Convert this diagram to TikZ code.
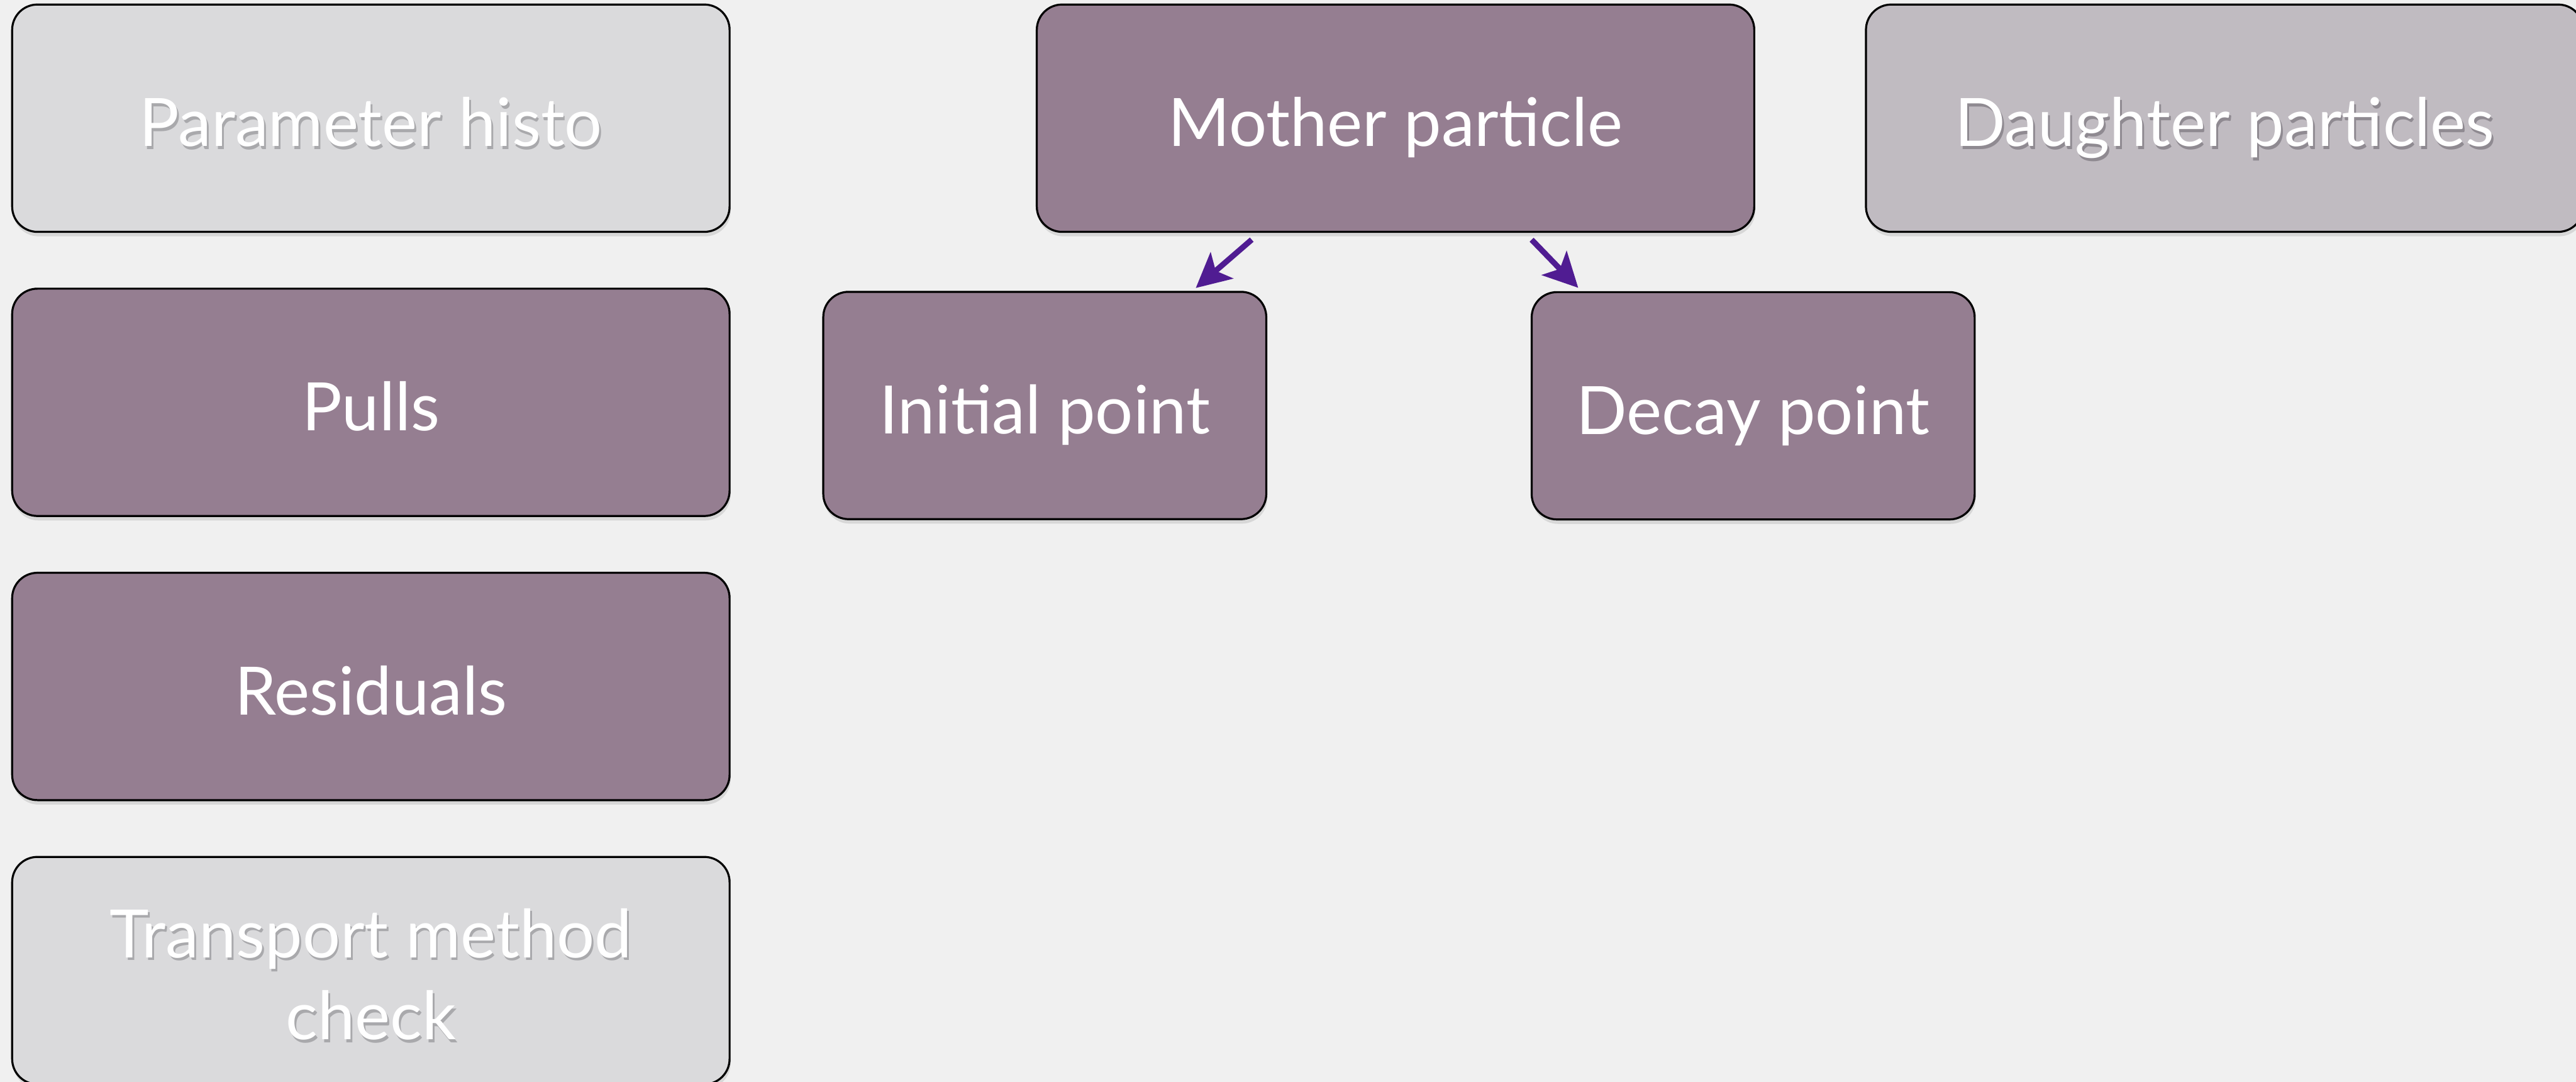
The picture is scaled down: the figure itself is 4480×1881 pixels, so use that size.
\documentclass[tikz,border=0pt]{standalone}
\usepackage{fontspec}
\setmainfont{Lato}
\usetikzlibrary{arrows.meta,calc,shadows}
\definecolor{bgc}{HTML}{F0F0F0}
\definecolor{purplebox}{HTML}{957E91}
\definecolor{lightbox}{HTML}{DADADC}
\definecolor{daughterbox}{HTML}{C0BBC1}
\definecolor{arrowc}{HTML}{501C92}
\definecolor{shlight}{HTML}{A9A9AC}
\definecolor{shdaughter}{HTML}{8F8A91}
\newcommand\shtxt[2]{\makebox[0pt][l]{\kern0.9pt\raisebox{-1.3pt}{\color{#1}#2}}#2}
\newcommand\lowerline[1]{\raisebox{-2.5pt}[\height][\depth]{#1}}
\begin{document}
\begin{tikzpicture}[x=0.01cm,y=-0.01cm,
  box/.style={draw=black, line width=1pt, rounded corners=12.5pt,
    minimum height=3.95cm, inner sep=0pt, text=white, align=center,
    font=\fontsize{33}{40.7}\selectfont,
    drop shadow={shadow xshift=0.5pt, shadow yshift=-2.2pt, opacity=0.22}},
  oneline/.style={text height=34pt, text depth=6pt},
  widebox/.style={box, minimum width=12.47cm},
  narrowbox/.style={box, minimum width=7.70cm},
  arr/.style={draw=arrowc, line width=2.8pt, -{Stealth[length=17pt,width=17pt,inset=4pt]}}
]
\useasboundingbox[fill=bgc] (0,0) rectangle (4480,1881);

\node[widebox, oneline, fill=lightbox] (param) at (645,205.5) {\shtxt{shlight}{Parameter histo}};
\node[widebox, oneline, fill=purplebox] (pulls) at (645,699.5) {Pulls};
\node[widebox, oneline, fill=purplebox] (resid) at (645,1193.5) {Residuals};
\node[widebox, fill=lightbox] (trans) at (645,1687.5)
  {\lowerline{\shtxt{shlight}{Transport method}}\\\lowerline{\shtxt{shlight}{check}}};

\node[widebox, oneline, fill=purplebox] (mother) at (2427,205.5) {Mother particle};
\node[widebox, oneline, fill=daughterbox] (daughter) at (3869,205.5) {\shtxt{shdaughter}{Daughter particles}};

\node[narrowbox, oneline, fill=purplebox] (init) at (1817,705) {Initial point};
\node[narrowbox, oneline, fill=purplebox] (decay) at (3049,705.5) {Decay point};

\draw[arr, shorten <=0.18cm, shorten >=0.075cm]
  ($(mother.south west)!0.311!(mother.south east)$) -- ($(init.north west)!0.832!(init.north east)$);
\draw[arr, shorten <=0.165cm, shorten >=0.08cm]
  ($(mother.south west)!0.680!(mother.south east)$) -- ($(decay.north west)!0.114!(decay.north east)$);
\end{tikzpicture}
\end{document}
